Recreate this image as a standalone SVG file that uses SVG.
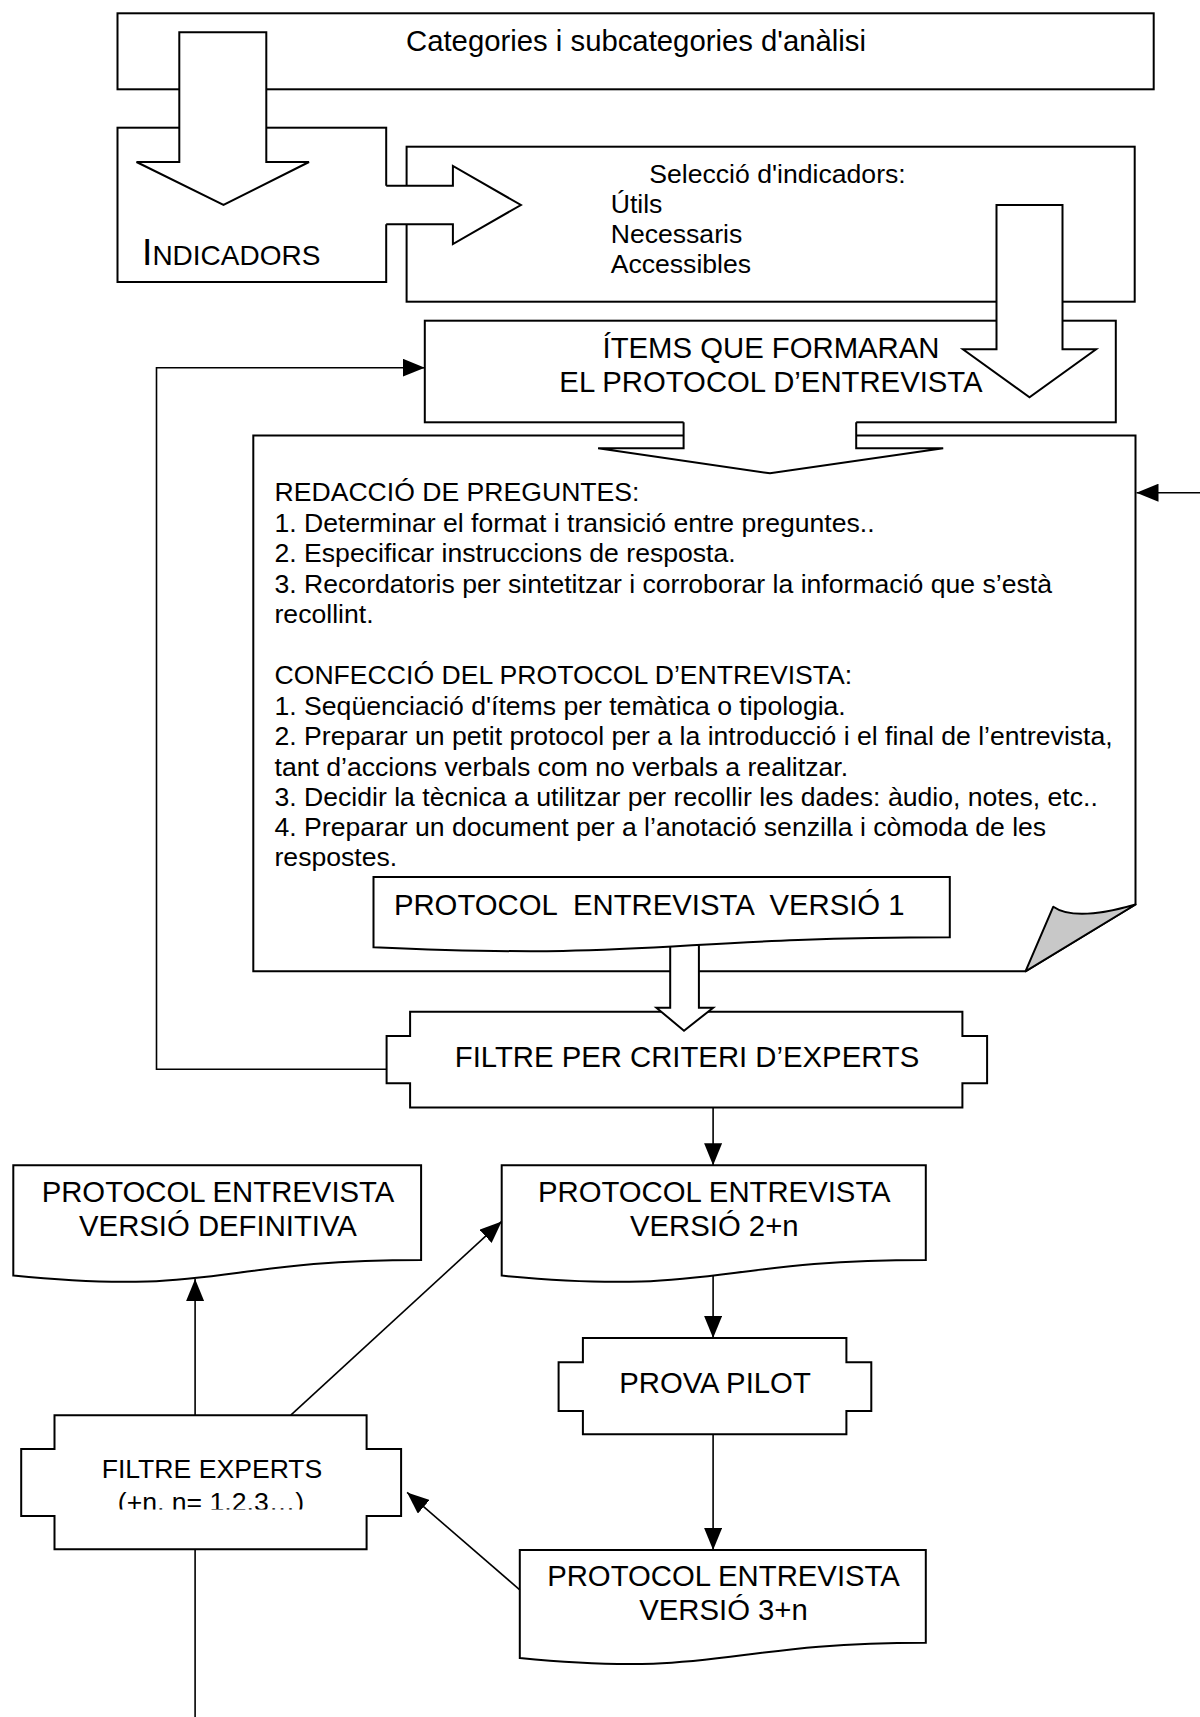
<svg xmlns="http://www.w3.org/2000/svg" width="1200" height="1717" viewBox="0 0 1200 1717">
<style>
.b{fill:#fff;stroke:#000;stroke-width:2;stroke-linejoin:miter}
.o{fill:none;stroke:#000;stroke-width:2}
.w{fill:#fff;stroke:none}
.c{fill:none;stroke:#000;stroke-width:1.6}
.fold{fill:#c8c8c8;stroke:#000;stroke-width:2;stroke-linejoin:round}
text{font-family:"Liberation Sans",Arial,sans-serif;fill:#000;white-space:pre}
.s{font-size:26.6px}
.l{font-size:29.3px}
.m{text-anchor:middle}
</style>
<defs>
<marker id="ah" markerUnits="userSpaceOnUse" markerWidth="22" markerHeight="18" refX="22" refY="9" orient="auto">
<path d="M0,0 L22,9 L0,18 Z" fill="#000"/>
</marker>
<clipPath id="clipN"><rect x="0" y="1480" width="420" height="29.5"/></clipPath>
</defs>

<g id="categories">
<rect class="b" x="117.5" y="13.3" width="1036.2" height="76"/>
<text class="l m" x="636" y="50.6">Categories i subcategories d'anàlisi</text>
</g>

<g id="indicadors">
<rect class="b" x="117.5" y="127.7" width="268.7" height="154.3"/>
<text x="142" y="265" style="font-size:37.3px">I<tspan style="font-size:28px">NDICADORS</tspan></text>
</g>

<g id="seleccio">
<rect class="b" x="406.6" y="146.7" width="728.1" height="155"/>
<text class="s" x="649.3" y="182.7">Selecció d'indicadors:</text>
<text class="s" x="610.7" y="212.7">Útils</text>
<text class="s" x="610.7" y="243.3">Necessaris</text>
<text class="s" x="610.7" y="273.3">Accessibles</text>
</g>

<g id="arrow-categories-indicadors">
<polygon class="b" points="179.3,32.3 266.3,32.3 266.3,162 309,162 223.5,205 136.5,162 179.3,162"/>
</g>

<g id="arrow-indicadors-seleccio">
<polygon class="w" points="384,185.7 452.9,185.7 452.9,166 520.9,205 452.9,244 452.9,224.3 384,224.3"/>
<polyline class="o" points="386.2,185.7 452.9,185.7 452.9,166 520.9,205 452.9,244 452.9,224.3 386.2,224.3"/>
</g>

<g id="items">
<rect class="b" x="424.8" y="320.7" width="691" height="101.6"/>
<text class="l m" x="771" y="358.3">ÍTEMS QUE FORMARAN</text>
<text class="l m" x="771" y="391.7">EL PROTOCOL D’ENTREVISTA</text>
</g>

<g id="arrow-seleccio-items">
<polygon class="b" points="996.5,205 1062.5,205 1062.5,349.3 1096.1,349.3 1029.5,397.3 962.9,349.3 996.5,349.3"/>
</g>

<g id="redaccio">
<path class="b" d="M253.3,435.5 H1135.5 V904.5 L1025.5,971.3 H253.3 Z"/>
<path class="fold" d="M1135.5,904.5 L1025.5,971.3 L1053.3,906.7 Q1075,922 1135.5,904.5 Z"/>
<text class="s" x="274.5" y="501.4">REDACCIÓ DE PREGUNTES:</text>
<text class="s" x="274.5" y="531.8">1. Determinar el format i transició entre preguntes..</text>
<text class="s" x="274.5" y="562.1">2. Especificar instruccions de resposta.</text>
<text class="s" x="274.5" y="592.5">3. Recordatoris per sintetitzar i corroborar la informació que s’està</text>
<text class="s" x="274.5" y="622.9">recollint.</text>
<text class="s" x="274.5" y="684.3">CONFECCIÓ DEL PROTOCOL D’ENTREVISTA:</text>
<text class="s" x="274.5" y="714.6">1. Seqüenciació d'ítems per temàtica o tipologia.</text>
<text class="s" x="274.5" y="745">2. Preparar un petit protocol per a la introducció i el final de l’entrevista,</text>
<text class="s" x="274.5" y="775.7">tant d’accions verbals com no verbals a realitzar.</text>
<text class="s" x="274.5" y="806.1">3. Decidir la tècnica a utilitzar per recollir les dades: àudio, notes, etc..</text>
<text class="s" x="274.5" y="836.4">4. Preparar un document per a l’anotació senzilla i còmoda de les</text>
<text class="s" x="274.5" y="866.4">respostes.</text>
</g>

<g id="arrow-items-redaccio">
<polygon class="w" points="683.6,420 856.2,420 856.2,448.3 943.2,448.3 770,473.3 598.1,448.3 683.6,448.3"/>
<polyline class="o" points="683.6,422.3 683.6,448.3 598.1,448.3 770,473.3 943.2,448.3 856.2,448.3 856.2,422.3"/>
</g>

<g id="filtre-criteri">
<path class="b" d="M410.1,1011.7 H962.4 V1036 H987.1 V1083.3 H962.4 V1107.6 H410.1 V1083.3 H386.6 V1036 H410.1 Z"/>
<text class="l m" x="687" y="1067.3">FILTRE PER CRITERI D’EXPERTS</text>
</g>

<g id="arrow-versio1-filtre">
<polygon class="w" points="670.2,940 698.9,940 698.9,1007.7 713.2,1007.7 684,1030.7 656.4,1007.7 670.2,1007.7"/>
<polyline class="o" points="670.2,940 670.2,1007.7 656.4,1007.7 684,1030.7 713.2,1007.7 698.9,1007.7 698.9,940"/>
</g>

<g id="versio1">
<path class="b" d="M373.5,877 H949.8 V937.3 C661.6,937.3 661.6,960.3 373.5,947.2 Z"/>
<text class="l" x="393.9" y="914.6" xml:space="preserve">PROTOCOL  ENTREVISTA  VERSIÓ 1</text>
</g>

<g id="versio-definitiva">
<path class="b" d="M13.3,1165.3 H421.1 V1260 C217.2,1260 217.2,1296.1 13.3,1275.6 Z"/>
<text class="l m" x="218" y="1201.9">PROTOCOL ENTREVISTA</text>
<text class="l m" x="218" y="1235.6">VERSIÓ DEFINITIVA</text>
</g>

<g id="versio-2n">
<path class="b" d="M501.7,1165.3 H925.8 V1260 C713.75,1260 713.75,1296.1 501.7,1275.6 Z"/>
<text class="l m" x="714.3" y="1201.9">PROTOCOL ENTREVISTA</text>
<text class="l m" x="714.3" y="1235.6">VERSIÓ 2+n</text>
</g>

<g id="prova-pilot">
<path class="b" d="M582.9,1338 H846.4 V1362.3 H871.3 V1411.1 H846.4 V1434.3 H582.9 V1411.1 H558.6 V1362.3 H582.9 Z"/>
<text class="l m" x="715" y="1392.8">PROVA PILOT</text>
</g>

<g id="versio-3n">
<path class="b" d="M519.8,1550 H925.8 V1642.7 C722.8,1642.7 722.8,1678 519.8,1658 Z"/>
<text class="l m" x="723.5" y="1585.8">PROTOCOL ENTREVISTA</text>
<text class="l m" x="723.5" y="1620.3">VERSIÓ 3+n</text>
</g>

<g id="filtre-experts">
<path class="b" d="M54.5,1415.2 H366.6 V1448.9 H401.1 V1515.9 H366.6 V1549.2 H54.5 V1515.9 H21.2 V1448.9 H54.5 Z"/>
<text class="s m" x="212" y="1477.5">FILTRE EXPERTS</text>
<text class="s m" x="211" y="1510.8" clip-path="url(#clipN)">(+n, n= 1,2,3…)</text>
</g>

<g id="connectors">
<path class="c" d="M386.6,1069.3 H156.5 V367.7 H424.8" marker-end="url(#ah)"/>
<path class="c" d="M1200,492.7 H1136.5" marker-end="url(#ah)"/>
<path class="c" d="M713.1,1107.6 V1165.3" marker-end="url(#ah)"/>
<path class="c" d="M713.1,1275.5 V1338" marker-end="url(#ah)"/>
<path class="c" d="M713.1,1434.3 V1550" marker-end="url(#ah)"/>
<path class="c" d="M195.1,1415.2 V1279" marker-end="url(#ah)"/>
<path class="c" d="M290.8,1415.2 L501.7,1221.4" marker-end="url(#ah)"/>
<path class="c" d="M519.8,1589.8 L407.1,1492.4" marker-end="url(#ah)"/>
<path class="c" d="M195.1,1549.2 V1717"/>
</g>
</svg>
